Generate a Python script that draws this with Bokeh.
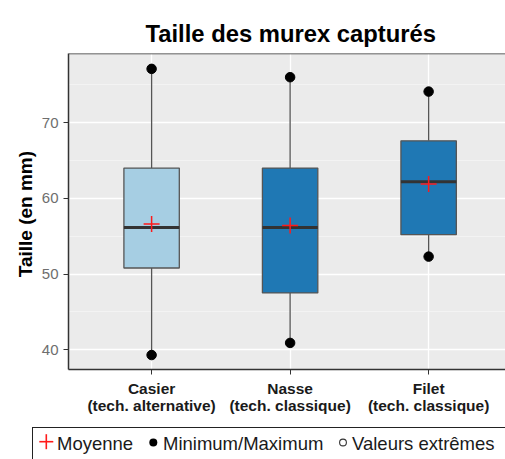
from bokeh.plotting import figure
from bokeh.layouts import column
from bokeh.models import FixedTicker, Span, Range1d, Div
from bokeh.embed import file_html
from bokeh.resources import INLINE

# ---- data ----
categories = ["Casier", "Nasse", "Filet"]
techniques = ["(tech. alternative)", "(tech. classique)", "(tech. classique)"]
positions = [1, 2, 3]
mins = [39.3, 40.9, 52.3]
q1 = [50.8, 47.5, 55.2]
medians = [56.15, 56.15, 62.2]
q3 = [64.0, 64.0, 67.6]
maxs = [77.1, 76.0, 74.1]
means = [56.6, 56.4, 61.9]
fills = ["#A6CEE3", "#1F78B4", "#1F78B4"]
y_ticks = [40, 50, 60, 70]
y_minor = [35, 45, 55, 65, 75]
legend_labels = ["Moyenne", "Minimum/Maximum", "Valeurs extrêmes"]

FONT = "Liberation Sans"
BOX_W = 0.4
Y_TOP = 79.13
MEAN_COLOR = "#FF1A1A"

p = figure(width=505, height=420,
           x_range=Range1d(0.4, 3.555), y_range=Range1d(37.39, Y_TOP),
           output_backend="svg", toolbar_location=None,
           min_border_left=68, min_border_right=0,
           min_border_top=53, min_border_bottom=51)

p.background_fill_color = "#EBEBEB"
p.border_fill_color = "white"
p.outline_line_color = None

# title
p.title.text = "Taille des murex capturés"
p.title.align = "left"
p.title.offset = 77
p.title.standoff = 13
p.title.text_font = FONT
p.title.text_font_size = "23.8px"
p.title.text_font_style = "bold"
p.title.text_color = "#000000"

# grids
p.xgrid.ticker = FixedTicker(ticks=positions)
p.xgrid.grid_line_color = "white"
p.xgrid.grid_line_width = 1.3
p.ygrid.ticker = FixedTicker(ticks=y_ticks, minor_ticks=y_minor)
p.ygrid.grid_line_color = "white"
p.ygrid.grid_line_width = 1.3
p.ygrid.minor_grid_line_color = "#F7F7F7"
p.ygrid.minor_grid_line_width = 0.7

# axes
p.xaxis.ticker = FixedTicker(ticks=positions)
p.xaxis.major_label_overrides = {pos: f"{c}\n{t}" for pos, c, t in zip(positions, categories, techniques)}
p.yaxis.ticker = FixedTicker(ticks=y_ticks)
for ax in (p.xaxis[0], p.yaxis[0]):
    ax.axis_line_color = "#333333"
    ax.axis_line_width = 1.5
    ax.major_tick_line_color = "#333333"
    ax.major_tick_line_width = 1
    ax.major_tick_out = 5
    ax.major_tick_in = 0
    ax.minor_tick_line_color = None
    ax.major_label_text_font = FONT
p.xaxis.major_label_text_font_size = "15.5px"
p.xaxis.major_label_text_font_style = "bold"
p.xaxis.major_label_text_color = "#1A1A1A"
p.xaxis.major_label_text_line_height = 1.05
p.xaxis.major_label_standoff = 5
p.yaxis.major_label_text_font_size = "15px"
p.yaxis.major_label_text_color = "#6E6E6E"
p.yaxis.major_label_standoff = 5
p.yaxis.axis_label = "Taille  (en mm)"
p.yaxis.axis_label_text_font = FONT
p.yaxis.axis_label_text_font_size = "19px"
p.yaxis.axis_label_text_font_style = "bold"
p.yaxis.axis_label_text_color = "#000000"
p.yaxis.axis_label_standoff = 3

# top panel border
p.add_layout(Span(location=Y_TOP, dimension="width", line_color="#333333", line_width=1.5))

# whiskers
p.segment(x0=positions, y0=q3, x1=positions, y1=maxs, line_color="#555555", line_width=1.3)
p.segment(x0=positions, y0=mins, x1=positions, y1=q1, line_color="#555555", line_width=1.3)
# boxes
p.vbar(x=positions, width=BOX_W, bottom=q1, top=q3, fill_color=fills,
       line_color="#555555", line_width=1.3)
# medians
p.segment(x0=[x - BOX_W / 2 for x in positions], y0=medians,
          x1=[x + BOX_W / 2 for x in positions], y1=medians,
          line_color="#333333", line_width=3)
# min / max points
p.scatter(x=positions + positions, y=mins + maxs, marker="circle",
          size=9.5, fill_color="black", line_color="black")
# means
p.scatter(x=positions, y=means, marker="cross", size=16,
          line_color=MEAN_COLOR, line_width=1.5)

# ---- legend strip below the chart (HTML, real text) ----
glyphs_svg = (
    '<svg width="505" height="39" style="position:absolute;left:0;top:0;">'
    f'<line x1="39.3" y1="21.7" x2="53.3" y2="21.7" stroke="{MEAN_COLOR}" stroke-width="1.6"/>'
    f'<line x1="46.3" y1="14.2" x2="46.3" y2="29.2" stroke="{MEAN_COLOR}" stroke-width="1.6"/>'
    '<circle cx="153.3" cy="22.5" r="4" fill="black"/>'
    '<circle cx="343" cy="22.5" r="3.4" fill="white" stroke="#333333" stroke-width="1.1"/>'
    '</svg>'
)
text_style = (f"position:absolute;top:14px;font-family:'{FONT}';font-size:18.5px;"
              "line-height:19px;color:#1A1A1A;white-space:nowrap;")
label_lefts = [57, 163, 352]
labels_html = "".join(
    f'<span style="{text_style}left:{lx}px;">{lab}</span>'
    for lx, lab in zip(label_lefts, legend_labels)
)
legend_html = (
    '<div style="position:relative;width:505px;height:39px;overflow:hidden;background:white;">'
    '<div style="position:absolute;left:32px;top:7px;width:490px;height:45px;'
    'border:1.3px solid #222222;box-sizing:border-box;background:white;"></div>'
    + glyphs_svg + labels_html +
    '</div>'
)
legend_div = Div(text=legend_html, width=505, height=39, margin=(0, 0, 0, 0))

layout = column(p, legend_div, spacing=0)
open("out.html", "w").write(file_html(layout, INLINE))
